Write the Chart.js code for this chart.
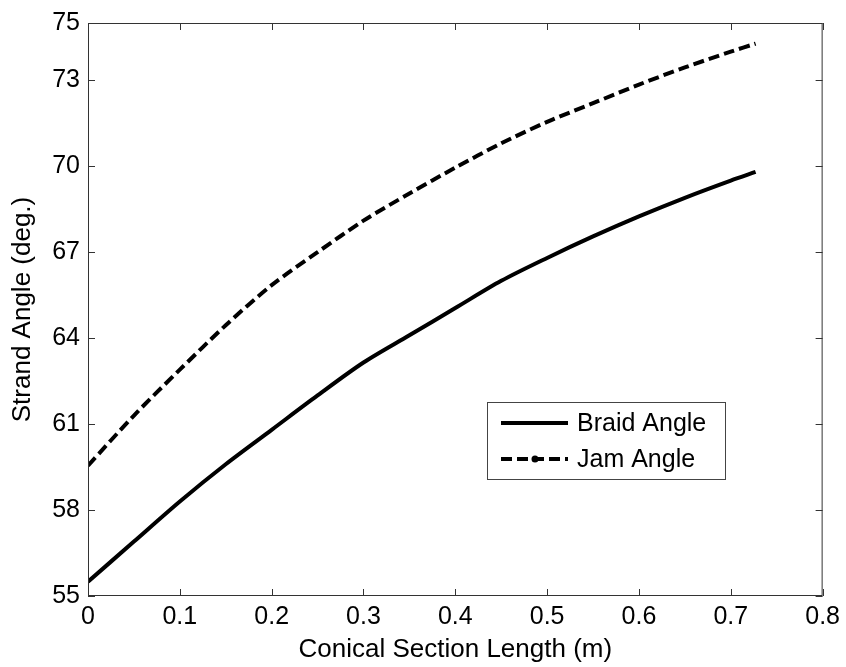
<!DOCTYPE html>
<html>
<head>
<meta charset="utf-8">
<script src="https://cdn.jsdelivr.net/npm/chart.js@4.4.1/dist/chart.umd.min.js"></script>
<style>
  html, body { margin: 0; padding: 0; background: #fff; }
  #wrap { width: 846px; height: 667px; }
</style>
</head>
<body>
<div id="wrap"><canvas id="strandChart" width="846" height="667"></canvas></div>
<script>
// strand angle along the conical section
const sectionLength = [0, 0.05, 0.1, 0.15, 0.2, 0.25, 0.3, 0.35, 0.4, 0.45, 0.5, 0.55, 0.6, 0.65, 0.7, 0.727];
const braidAngle = [55.5, 56.9, 58.3, 59.6, 60.8, 62.0, 63.15, 64.1, 65.05, 66.0, 66.8, 67.55, 68.25, 68.9, 69.5, 69.8];
const jamAngle = [59.55, 61.3, 62.9, 64.45, 65.85, 67.0, 68.1, 69.05, 69.95, 70.8, 71.55, 72.2, 72.85, 73.45, 74.0, 74.28];

const xTicks = [0, 0.1, 0.2, 0.3, 0.4, 0.5, 0.6, 0.7, 0.8];
const yTicks = [55, 58, 61, 64, 67, 70, 73, 75];

const FONT = 'Arial, "Liberation Sans", Helvetica, sans-serif';

function toPoints(ys) {
    return sectionLength.map((x, i) => ({ x: x, y: ys[i] }));
}

// box around the axes with inward tick marks on all four sides
const axesBox = {
    id: 'axesBox',
    afterDraw(chart) {
        const { ctx, chartArea: a, scales: { x, y } } = chart;
        const len = 7;
        ctx.save();
        ctx.strokeStyle = '#333';
        ctx.lineWidth = 1;
        ctx.strokeRect(a.left + 0.5, a.top + 0.5, a.right - a.left - 1, a.bottom - a.top - 1);
        ctx.beginPath();
        xTicks.forEach(v => {
            const px = Math.round(x.getPixelForValue(v)) + 0.5;
            ctx.moveTo(px, a.bottom);
            ctx.lineTo(px, a.bottom - len);
            ctx.moveTo(px, a.top);
            ctx.lineTo(px, a.top + len);
        });
        yTicks.forEach(v => {
            const py = Math.round(y.getPixelForValue(v)) + 0.5;
            ctx.moveTo(a.left, py);
            ctx.lineTo(a.left + len, py);
            ctx.moveTo(a.right, py);
            ctx.lineTo(a.right - len, py);
        });
        ctx.stroke();
        ctx.restore();
    }
};

// legend box inside the plot, lower right
const boxLegend = {
    id: 'boxLegend',
    afterDraw(chart) {
        const { ctx } = chart;
        const left = 487, top = 402, w = 238, h = 77;
        ctx.save();
        ctx.fillStyle = '#fff';
        ctx.fillRect(left, top, w, h);
        ctx.strokeStyle = '#444';
        ctx.lineWidth = 1;
        ctx.strokeRect(left + 0.5, top + 0.5, w, h);
        ctx.font = '25px ' + FONT;
        ctx.textBaseline = 'middle';
        ctx.fillStyle = '#000';
        const rows = [423, 459];
        chart.data.datasets.forEach((ds, i) => {
            const yy = rows[i];
            ctx.beginPath();
            ctx.strokeStyle = ds.borderColor;
            ctx.lineWidth = ds.borderWidth;
            ctx.setLineDash(ds.borderDash || []);
            ctx.moveTo(501, yy);
            ctx.lineTo(568, yy);
            ctx.stroke();
            ctx.setLineDash([]);
            if (ds.borderDash) {
                ctx.beginPath();
                ctx.arc(535, yy, 3.5, 0, Math.PI * 2);
                ctx.fillStyle = '#000';
                ctx.fill();
            }
            ctx.fillText(ds.label, 577, yy + 1);
        });
        ctx.restore();
    }
};

const ctx = document.getElementById('strandChart').getContext('2d');
new Chart(ctx, {
    type: 'line',
    data: {
        datasets: [{
            label: 'Braid Angle',
            data: toPoints(braidAngle),
            borderColor: '#000',
            borderWidth: 4,
            pointRadius: 0,
            tension: 0.3
        }, {
            label: 'Jam Angle',
            data: toPoints(jamAngle),
            borderColor: '#000',
            borderWidth: 4,
            borderDash: [11, 5],
            pointRadius: 0,
            tension: 0.3
        }]
    },
    options: {
        responsive: false,
        animation: false,
        layout: { padding: { top: 21, right: 23, left: 0, bottom: 0 } },
        plugins: {
            legend: { display: false },
            tooltip: { enabled: false }
        },
        scales: {
            x: {
                type: 'linear',
                min: 0,
                max: 0.8,
                afterBuildTicks: scale => { scale.ticks = xTicks.map(v => ({ value: v })); },
                afterFit: scale => { scale.height = 71; },
                grid: { display: false, drawTicks: false },
                border: { display: false },
                ticks: {
                    color: '#000',
                    padding: 6,
                    maxRotation: 0,
                    font: { family: FONT, size: 25 },
                    callback: v => String(Number(v.toFixed(1)))
                },
                title: {
                    display: true,
                    text: 'Conical Section Length (m)',
                    color: '#000',
                    font: { family: FONT, size: 26 },
                    padding: { top: 0, bottom: 2 }
                }
            },
            y: {
                min: 55,
                max: 75,
                afterBuildTicks: scale => { scale.ticks = yTicks.map(v => ({ value: v })); },
                afterFit: scale => { scale.width = 88; },
                grid: { display: false, drawTicks: false },
                border: { display: false },
                ticks: {
                    color: '#000',
                    padding: 8,
                    font: { family: FONT, size: 25 }
                },
                title: {
                    display: true,
                    text: 'Strand Angle (deg.)',
                    color: '#000',
                    font: { family: FONT, size: 26 },
                    padding: { top: 7, bottom: 0 }
                }
            }
        }
    },
    plugins: [axesBox, boxLegend]
});
</script>
</body>
</html>
